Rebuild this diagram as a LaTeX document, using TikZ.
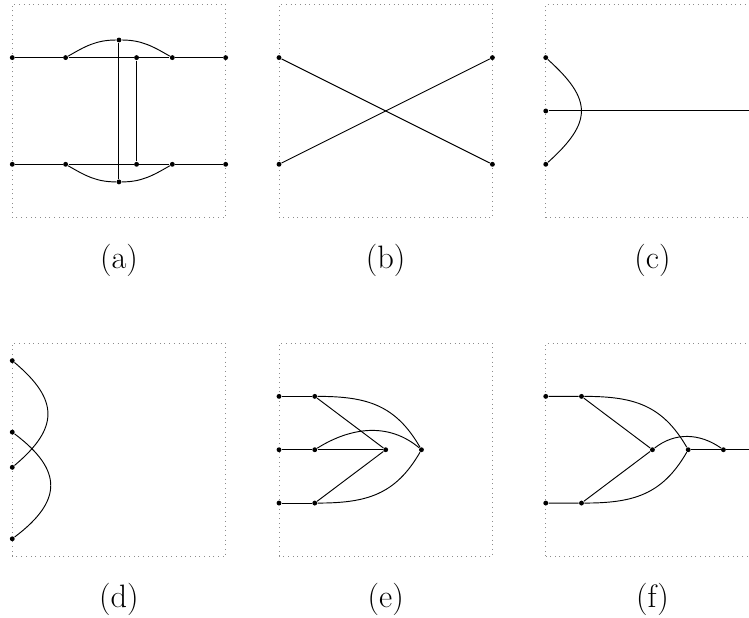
\documentclass[tikz,border=0pt]{standalone}
\usepackage{tikz}
\usepackage{xcolor}
\usetikzlibrary{positioning}
\definecolor{framegray}{rgb}{0.55,0.55,0.55}

\begin{document}
\begin{tikzpicture}[line width=0.5pt]
\tikzstyle{frame}=[draw=framegray, dotted, line width=0.5pt]
\tikzstyle{vtx}=[circle, fill=black, inner sep=0pt, minimum size=2.6pt]
\tikzstyle{lbl}=[font=\LARGE]
\useasboundingbox (-0.23,4.08) rectangle (13.81,-7.50);

% (a)
\begin{scope}
\draw[frame] (0,0) rectangle (4,4);
\node[vtx] (a1) at (0,3) {};
\node[vtx] (a2) at (1,3) {};
\node[vtx] (a3) at (2,3.33) {};
\node[vtx] (a4) at (2.33,3) {};
\node[vtx] (a5) at (3,3) {};
\node[vtx] (a6) at (4,3) {};
\node[vtx] (a7) at (0,1) {};
\node[vtx] (a8) at (1,1) {};
\node[vtx] (a9) at (2,0.67) {};
\node[vtx] (a10) at (2.33,1) {};
\node[vtx] (a11) at (3,1) {};
\node[vtx] (a12) at (4,1) {};
\draw (a1) -- (a2) -- (a4) -- (a5) -- (a6);
\draw (a7) -- (a8) -- (a10) -- (a11) -- (a12);
\draw (a2) to[out=30,in=180] (a3) to[out=0,in=150] (a5);
\draw (a8) to[out=-30,in=180] (a9) to[out=0,in=-150] (a11);
\draw (a3) -- (a9);
\draw (a4) -- (a10);
\node[lbl] at (2,-0.8) {(a)};
\end{scope}

% (b)
\begin{scope}[shift={(5,0)}]
\draw[frame] (0,0) rectangle (4,4);
\node[vtx] (b1) at (0,3) {};
\node[vtx] (b2) at (4,1) {};
\node[vtx] (b3) at (0,1) {};
\node[vtx] (b4) at (4,3) {};
\draw (b1) -- (b2);
\draw (b3) -- (b4);
\node[lbl] at (2,-0.8) {(b)};
\end{scope}

% (c)
\begin{scope}[shift={(10,0)}]
\draw[frame] (0,0) rectangle (4,4);
\node[vtx] (c1) at (0,3) {};
\node[vtx] (c2) at (0,2) {};
\node[vtx] (c3) at (0,1) {};
\coordinate (c4) at (4,2);
\draw (c2) -- (c4);
\draw (c1) to[out=-42,in=42,looseness=1.5] (c3);
\node[lbl] at (2,-0.8) {(c)};
\end{scope}

% (d)
\begin{scope}[shift={(0,-6.35)}]
\draw[frame] (0,0) rectangle (4,4);
\node[vtx] (d1) at (0,3.67) {};
\node[vtx] (d2) at (0,2.33) {};
\node[vtx] (d3) at (0,1.67) {};
\node[vtx] (d4) at (0,0.33) {};
\draw (d1) to[out=-40,in=40,looseness=1.45] (d3);
\draw (d2) to[out=-37,in=37,looseness=1.5] (d4);
\node[lbl] at (2,-0.8) {(d)};
\end{scope}

% (e)
\begin{scope}[shift={(5,-6.35)}]
\draw[frame] (0,0) rectangle (4,4);
\node[vtx] (e1) at (0,3) {};
\node[vtx] (e2) at (0.67,3) {};
\node[vtx] (e3) at (0,2) {};
\node[vtx] (e4) at (0.67,2) {};
\node[vtx] (e5) at (0,1) {};
\node[vtx] (e6) at (0.67,1) {};
\node[vtx] (e7) at (2,2) {};
\node[vtx] (e8) at (2.67,2) {};
\draw (e1) -- (e2);
\draw (e3) -- (e4) -- (e7);
\draw (e5) -- (e6);
\draw (e2) -- (e7) -- (e6);
\draw (e2) to[out=0,in=120,looseness=1.1] (e8);
\draw (e6) to[out=0,in=-120,looseness=1.1] (e8);
\draw (e4) to[out=32,in=140] (e8);
\node[lbl] at (2,-0.8) {(e)};
\end{scope}

% (f)
\begin{scope}[shift={(10,-6.35)}]
\draw[frame] (0,0) rectangle (4,4);
\node[vtx] (f1) at (0,3) {};
\node[vtx] (f2) at (0.67,3) {};
\node[vtx] (f3) at (0,1) {};
\node[vtx] (f4) at (0.67,1) {};
\node[vtx] (f5) at (2,2) {};
\node[vtx] (f6) at (2.67,2) {};
\node[vtx] (f7) at (3.33,2) {};
\coordinate (f8) at (4,2);
\draw (f1) -- (f2) -- (f5) -- (f4) -- (f3);
\draw (f2) to[out=0,in=120,looseness=1.1] (f6);
\draw (f4) to[out=0,in=-120,looseness=1.1] (f6);
\draw (f5) to[out=38,in=145] (f7);
\draw (f6) -- (f7) -- (f8);
\node[lbl] at (2,-0.8) {(f)};
\end{scope}
\end{tikzpicture}
\end{document}
